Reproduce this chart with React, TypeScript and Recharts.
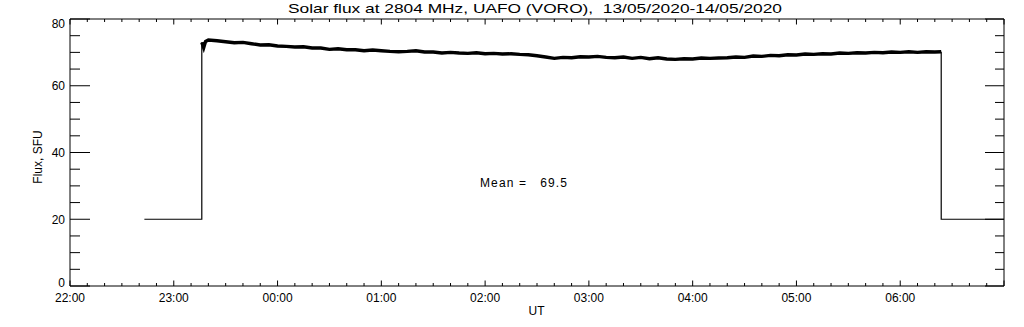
import { Line, LineChart, XAxis, YAxis } from "recharts";

// x is minutes after 22:00 UT (13/05), the frame runs to 07:00
const minorTicks = Array.from({ length: 55 }, (_, i) => i * 10);
const hourLabels = ["22:00", "23:00", "00:00", "01:00", "02:00", "03:00", "04:00", "05:00", "06:00"];
const fluxTicks = Array.from({ length: 17 }, (_, i) => i * 5);

// receiver off / calibration level before and after the run
const preTimes = [43, 76.2, 76.2];
const preValues = [20, 20, 73.0];
const postTimes = [503.7, 503.7, 540];
const postValues = [70.2, 20, 20];

// first samples right after switch-on
const headTimes = [76.2, 77.3, 78.4];
const headValues = [73.0, 71.4, 73.3];

// flux every 5 min from 23:20 to 06:20
const fluxValues = [
  73.7, 73.5, 73.2, 72.9, 73.0, 72.6, 72.2, 72.3, 71.9, 71.8,
  71.6, 71.7, 71.3, 71.3, 70.9, 71.1, 70.8, 70.8, 70.5, 70.7,
  70.5, 70.3, 70.2, 70.3, 70.5, 70.1, 70.1, 69.8, 70.0, 69.8,
  69.7, 69.9, 69.6, 69.7, 69.5, 69.6, 69.4, 69.3, 69.0, 68.6,
  68.2, 68.5, 68.4, 68.7, 68.6, 68.8, 68.5, 68.4, 68.6, 68.2,
  68.5, 68.1, 68.4, 68.0, 67.9, 68.1, 68.0, 68.3, 68.2, 68.3,
  68.4, 68.6, 68.5, 68.9, 68.8, 69.1, 69.0, 69.3, 69.2, 69.5,
  69.4, 69.6, 69.5, 69.8, 69.7, 69.9, 69.8, 70.0, 69.9, 70.1,
  70.0, 70.2, 70.0, 70.2, 70.1,
];
const tailTimes = [503.7];
const tailValues = [70.2];

const toPoints = (ts: number[], vs: number[]) => ts.map((t, i) => ({ t, v: vs[i] }));

const preData = toPoints(preTimes, preValues);
const postData = toPoints(postTimes, postValues);
const fluxData = [
  ...toPoints(headTimes, headValues),
  ...fluxValues.map((v, i) => ({ t: 80 + i * 5, v })),
  ...toPoints(tailTimes, tailValues),
];

const FONT = "'Liberation Sans', Arial, sans-serif";
const ink = "#000";

function BottomTick(props: any) {
  const { x, y, payload } = props;
  const m = payload.value;
  const major = m % 60 === 0;
  const label = major ? hourLabels[m / 60] : undefined;
  return (
    <g>
      <line x1={x} x2={x} y1={y} y2={y - (major ? 5.5 : 3)} stroke={ink} />
      {label ? (
        <text x={x} y={y + 16} textAnchor="middle" fontSize={12} fontFamily={FONT} fill={ink}>
          {label}
        </text>
      ) : null}
    </g>
  );
}

function TopTick(props: any) {
  const { x, y, payload } = props;
  const major = payload.value % 60 === 0;
  return <line x1={x} x2={x} y1={y} y2={y + (major ? 5.5 : 3)} stroke={ink} />;
}

function LeftTick(props: any) {
  const { x, y, payload } = props;
  const v = payload.value;
  const major = v % 20 === 0;
  const base = Math.min(Math.max(y + 4.5, 28), 286.5);
  return (
    <g>
      <line x1={x} x2={x + (major ? 20 : 10)} y1={y} y2={y} stroke={ink} />
      {major ? (
        <text x={x - 5} y={base} textAnchor="end" fontSize={12} fontFamily={FONT} fill={ink}>
          {v}
        </text>
      ) : null}
    </g>
  );
}

function RightTick(props: any) {
  const { x, y, payload } = props;
  const major = payload.value % 20 === 0;
  return <line x1={x} x2={x - (major ? 19 : 9)} y1={y} y2={y} stroke={ink} />;
}

export default function App() {
  return (
    <div style={{ position: "absolute", left: 0, top: 0, width: 1024, height: 327, background: "#fff" }}>
      <LineChart width={1024} height={327} margin={{ top: 18, right: 19, bottom: 0, left: 0 }}>
        <XAxis
          xAxisId="b"
          type="number"
          dataKey="t"
          domain={[0, 540]}
          allowDataOverflow
          ticks={minorTicks}
          interval={0}
          height={41}
          tickSize={0}
          tickMargin={0}
          tickLine={false}
          axisLine={{ stroke: ink }}
          tick={BottomTick}
        />
        <XAxis
          xAxisId="t"
          orientation="top"
          type="number"
          dataKey="t"
          domain={[0, 540]}
          allowDataOverflow
          ticks={minorTicks}
          interval={0}
          height={1}
          tickSize={0}
          tickMargin={0}
          tickLine={false}
          axisLine={{ stroke: ink }}
          tick={TopTick}
        />
        <YAxis
          yAxisId="l"
          type="number"
          domain={[0, 80]}
          allowDataOverflow
          ticks={fluxTicks}
          interval={0}
          width={70}
          tickSize={0}
          tickMargin={0}
          tickLine={false}
          axisLine={{ stroke: ink }}
          tick={LeftTick}
        />
        <YAxis
          yAxisId="r"
          orientation="right"
          type="number"
          domain={[0, 80]}
          allowDataOverflow
          ticks={fluxTicks}
          interval={0}
          width={1}
          tickSize={0}
          tickMargin={0}
          tickLine={false}
          axisLine={{ stroke: ink }}
          tick={RightTick}
        />
        {/* invisible series so the top and right frame axes get a scale */}
        <Line
          xAxisId="t"
          yAxisId="r"
          data={preData}
          dataKey="v"
          stroke="none"
          dot={false}
          legendType="none"
          isAnimationActive={false}
        />
        <Line
          xAxisId="b"
          yAxisId="l"
          data={preData}
          dataKey="v"
          type="linear"
          stroke={ink}
          strokeWidth={1.2}
          dot={false}
          isAnimationActive={false}
        />
        <Line
          xAxisId="b"
          yAxisId="l"
          data={fluxData}
          dataKey="v"
          type="linear"
          stroke={ink}
          strokeWidth={3.4}
          dot={false}
          isAnimationActive={false}
        />
        <Line
          xAxisId="b"
          yAxisId="l"
          data={postData}
          dataKey="v"
          type="linear"
          stroke={ink}
          strokeWidth={1.2}
          dot={false}
          isAnimationActive={false}
        />
      </LineChart>
      <svg
        width={1024}
        height={327}
        style={{ position: "absolute", left: 0, top: 0, pointerEvents: "none" }}
        fontFamily={FONT}
        fill={ink}
      >
        <text
          x={535}
          y={13}
          fontSize={13}
          textAnchor="middle"
          textLength={494}
          lengthAdjust="spacingAndGlyphs"
          style={{ whiteSpace: "pre" }}
        >
          Solar flux at 2804 MHz, UAFO (VORO),  13/05/2020-14/05/2020
        </text>
        <text x={480} y={187} fontSize={12} textLength={87} lengthAdjust="spacing" style={{ whiteSpace: "pre" }}>
          Mean =   69.5
        </text>
        <text x={536.5} y={315} fontSize={12} textAnchor="middle">
          UT
        </text>
        <text x={42} y={157} fontSize={12} textAnchor="middle" transform="rotate(-90 42 157)">
          Flux, SFU
        </text>
      </svg>
    </div>
  );
}
